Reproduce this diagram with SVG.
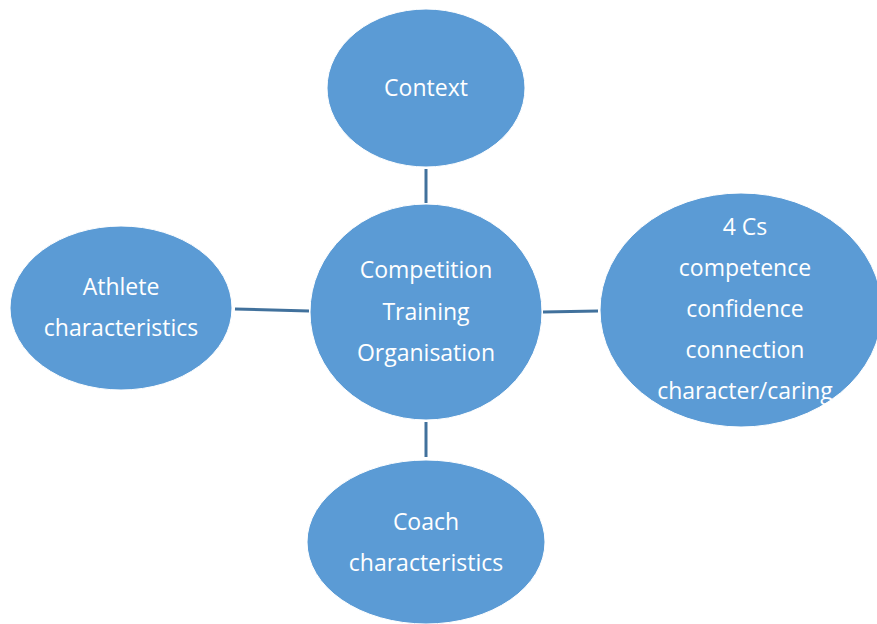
<svg xmlns="http://www.w3.org/2000/svg" width="877" height="624" viewBox="0 0 877 624">
<style>
.n{fill:#5B9BD5;stroke:#FFFFFF;stroke-width:1}
.t{fill:#FFFFFF;font-family:"Open Sans","Liberation Sans",sans-serif;font-size:23px;text-anchor:middle}
.c{stroke:#41719C;stroke-width:3;fill:none}
</style>
<rect width="877" height="624" fill="#FFFFFF"/>
<g id="connectors">
<line class="c" x1="426" y1="169" x2="426" y2="203"/>
<line class="c" x1="235" y1="309" x2="309" y2="311"/>
<line class="c" x1="543" y1="312" x2="598" y2="311"/>
<line class="c" x1="426" y1="422" x2="426" y2="457"/>
</g>
<g id="context">
<ellipse class="n" cx="426" cy="88" rx="99" ry="79"/>
<text class="t" x="426" y="96">Context</text>
</g>
<g id="center">
<ellipse class="n" cx="426" cy="312" rx="116" ry="108"/>
<text class="t" x="426" y="278">Competition</text>
<text class="t" x="426" y="320">Training</text>
<text class="t" x="426" y="361">Organisation</text>
</g>
<g id="athlete">
<ellipse class="n" cx="121" cy="308" rx="111" ry="82"/>
<text class="t" x="121" y="295">Athlete</text>
<text class="t" x="121" y="336">characteristics</text>
</g>
<g id="fourcs">
<ellipse class="n" cx="741" cy="310" rx="141" ry="117"/>
<text class="t" x="745" y="235">4 Cs</text>
<text class="t" x="745" y="276">competence</text>
<text class="t" x="745" y="317">confidence</text>
<text class="t" x="745" y="358">connection</text>
<text class="t" x="745" y="399">character/caring</text>
</g>
<g id="coach">
<ellipse class="n" cx="426" cy="542" rx="119" ry="82"/>
<text class="t" x="426" y="530">Coach</text>
<text class="t" x="426" y="571">characteristics</text>
</g>
</svg>
